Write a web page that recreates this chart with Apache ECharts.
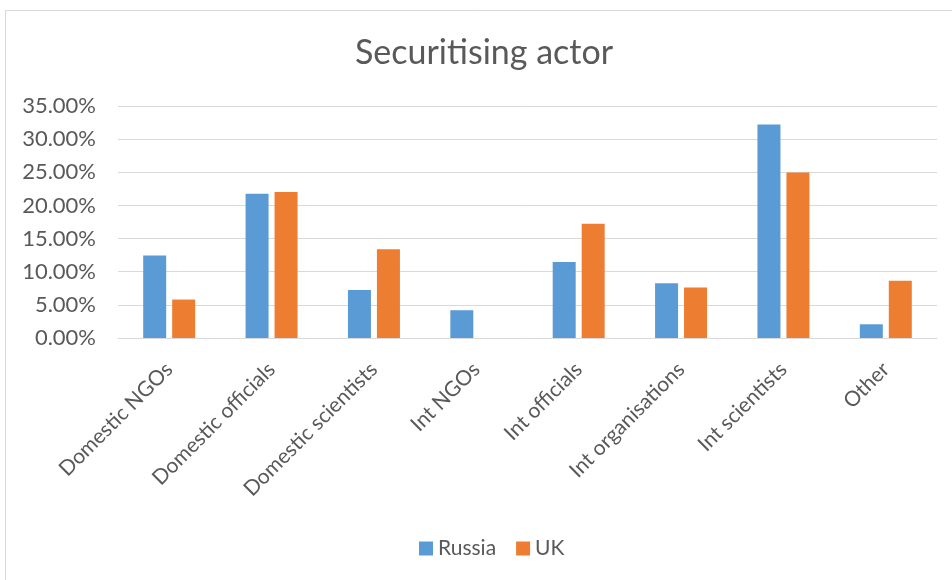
<!DOCTYPE html>
<html>
<head>
<meta charset="utf-8">
<script src="https://cdn.jsdelivr.net/npm/echarts@6/dist/echarts.min.js"></script>
<style>
html,body{margin:0;padding:0;background:#fff;}
#chart{width:952px;height:580px;}
</style>
</head>
<body>
<div id="chart"></div>
<script>
const titleText = 'Securitising actor';
const categories = ['Domestic NGOs','Domestic officials','Domestic scientists','Int NGOs','Int officials','Int organisations','Int scientists','Other'];
const russia = [12.46, 21.77, 7.26, 4.19, 11.45, 8.27, 32.2, 2.07];
const uk = [5.8, 22.03, 13.4, 0, 17.24, 7.62, 24.95, 8.62];
const seriesNames = ['Russia','UK'];

const FONT = 'Lato';
const chart = echarts.init(document.getElementById('chart'), null, {renderer:'canvas'});
chart.setOption({
  backgroundColor:'#ffffff',
  animation:false,
  title:{
    text:titleText, left:350, top:31,
    textStyle:{fontFamily:FONT, fontSize:34, fontWeight:'normal', color:'#595959'}
  },
  graphic:[{
    type:'rect', left:3, top:8, silent:true,
    shape:{x:0,y:0,width:2000,height:2000},
    style:{fill:'none', stroke:'#d9d9d9', lineWidth:1}
  }],
  legend:{
    data:seriesNames, left:414, top:533, itemWidth:14, itemHeight:14, itemGap:20,
    icon:'rect',
    textStyle:{fontFamily:FONT, fontSize:21, color:'#595959'}
  },
  grid:{left:118, right:15, top:106, height:232, containLabel:false},
  xAxis:{
    type:'category', data:categories,
    axisLine:{lineStyle:{color:'#d9d9d9', width:1}},
    axisTick:{show:false},
    axisLabel:{rotate:45, fontFamily:FONT, fontSize:21, color:'#595959', margin:28, interval:0}
  },
  yAxis:{
    type:'value', min:0, max:35, interval:5,
    axisLine:{show:false}, axisTick:{show:false},
    splitLine:{lineStyle:{color:'#d9d9d9', width:1}},
    axisLabel:{fontFamily:FONT, fontSize:22, color:'#595959', margin:22,
      formatter:v=>v.toFixed(2)+'%'}
  },
  series:[
    {name:seriesNames[0], type:'bar', data:russia, barWidth:23, barGap:'26%', itemStyle:{color:'#5B9BD5'}},
    {name:seriesNames[1], type:'bar', data:uk, barWidth:23, barGap:'26%', itemStyle:{color:'#ED7D31'}}
  ]
});
</script>
</body>
</html>
